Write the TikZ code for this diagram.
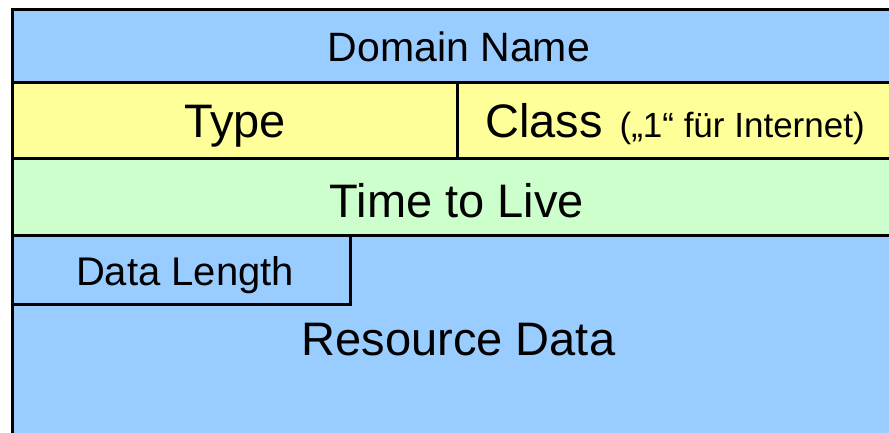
\documentclass[tikz,border=0pt]{standalone}
\usepackage{fontspec}
\setmainfont{Liberation Sans}
\definecolor{cblue}{HTML}{99CCFF}
\definecolor{cyellow}{HTML}{FFFF99}
\definecolor{cgreen}{HTML}{CCFFCC}
\tikzset{
  cell/.style={draw=black, line width=3pt},
  big/.style={anchor=base, inner sep=0pt, font=\fontsize{47}{50}\selectfont},
  mid/.style={anchor=base, inner sep=0pt, font=\fontsize{41}{44}\selectfont},
}
\begin{document}
\begin{tikzpicture}[x=1pt, y=-1pt]
\useasboundingbox (0,0) rectangle (889,433);
\clip (0,0) rectangle (889,433);
% backgrounds
\fill[cblue] (12.5,9.5) rectangle (910,83);
\fill[cyellow] (12.5,83) rectangle (910,159);
\fill[cgreen] (12.5,159) rectangle (910,235);
\fill[cblue] (12.5,235) rectangle (910,440);
% grid lines
\draw[cell] (12.5,440) -- (12.5,9.5) -- (910,9.5);
\draw[cell] (12.5,83) -- (910,83);
\draw[cell] (12.5,159) -- (910,159);
\draw[cell] (12.5,235) -- (910,235);
\draw[cell] (457,83) -- (457,159);
\draw[cell] (12.5,235) rectangle (350,304);
% texts
\node[mid] (dn) at (459,62) {Domain Name};
\node[big] (ty) at (235,138) {Type};
\node[big, anchor=base west] (cl) at (485,138) {Class\hspace{0.36em}{\fontsize{35}{38}\selectfont(„1“ für Internet)}};
\node[big] (ttl) at (457,217) {Time to Live};
\node[mid, font=\fontsize{40}{43}\selectfont] (dl) at (185,285) {Data Length};
\node[big] (rd) at (458.5,355) {Resource Data};
\end{tikzpicture}
\end{document}
